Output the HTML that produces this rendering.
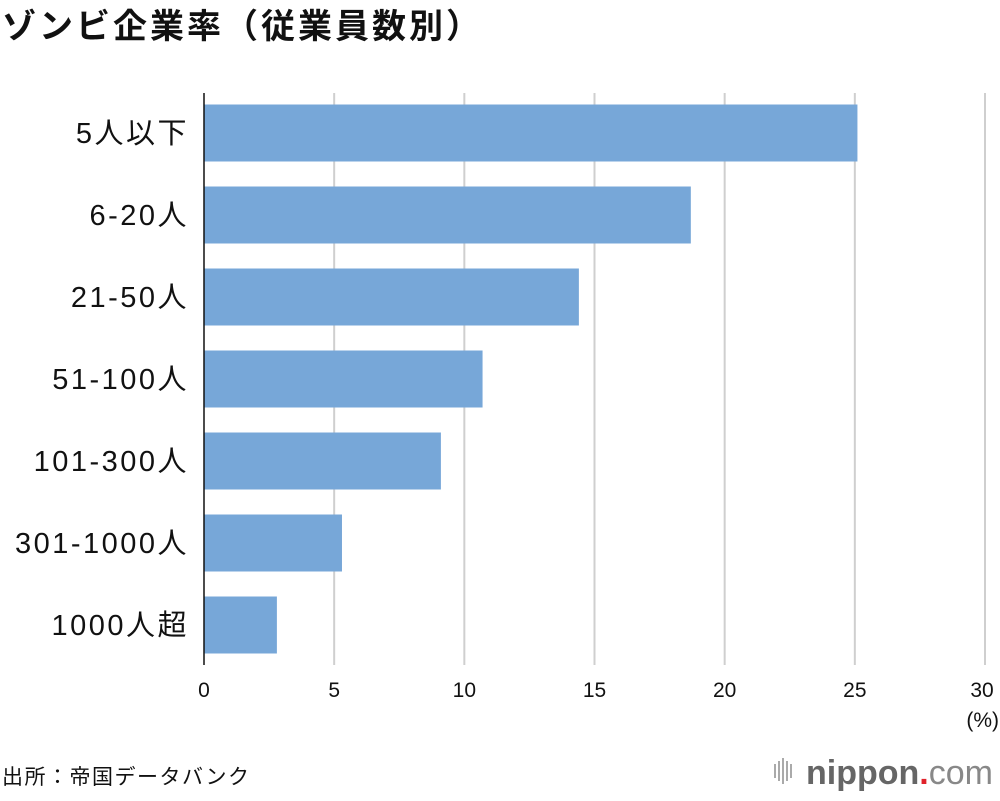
<!DOCTYPE html>
<html><head><meta charset="utf-8"><style>
body{margin:0;background:#fff;width:1000px;height:796px;overflow:hidden;font-family:"Liberation Sans","Noto Sans CJK JP",sans-serif;}
</style></head><body>
<svg id="c" width="1000" height="796" xmlns="http://www.w3.org/2000/svg">
<text x="2" y="38" font-size="34" font-weight="bold" fill="#111" letter-spacing="3">ゾンビ企業率（従業員数別）</text>
<g id="grid"></g><g id="bars"></g><g id="labels"></g>
<line x1="204" y1="93" x2="204" y2="665" stroke="#111" stroke-width="1.5"/>
<text x="999" y="727" font-size="21" text-anchor="end" fill="#111">(%)</text>
<text x="2" y="784" font-size="21" letter-spacing="1.5" fill="#111">出所：帝国データバンク</text>
<g>
<g fill="#aaa"><rect x="774" y="764" width="2" height="14"/><rect x="778" y="761" width="2" height="20"/><rect x="782" y="758" width="2" height="26"/><rect x="786" y="761" width="2" height="20"/><rect x="790" y="764" width="2" height="14"/></g>
<text x="806" y="784" font-size="34" font-weight="bold" fill="#666">nippon<tspan fill="#e0222a">.</tspan><tspan font-weight="normal" fill="#888">com</tspan></text>
</g>
</svg>
<script>
const categories=["5人以下","6-20人","21-50人","51-100人","101-300人","301-1000人","1000人超"];
const values=[25.1,18.7,14.4,10.7,9.1,5.3,2.8];
const ticks=[0,5,10,15,20,25,30];
const NS="http://www.w3.org/2000/svg";
const x=v=>204+v*(985-204)/30;
const band=i=>133+i*82;
const g=document.getElementById("grid"),b=document.getElementById("bars"),l=document.getElementById("labels");
function mk(tag,attrs,parent){const e=document.createElementNS(NS,tag);for(const k in attrs)e.setAttribute(k,attrs[k]);parent.appendChild(e);return e;}
ticks.forEach(t=>{
 if(t>0){const ln=mk("line",{x1:x(t),x2:x(t),y1:93,y2:665,stroke:"#cfcfcf","stroke-width":2},g);
 
 }
 const tx=mk("text",{x:t===30?x(t)-3:x(t),y:697,"font-size":21,"text-anchor":"middle",fill:"#111"},l);
 tx.textContent=t;
 
 
});
categories.forEach((c,i)=>{
 const r=mk("rect",{x:x(0),y:band(i)-28.5,width:x(values[i])-x(0),height:57,fill:"#77a7d8"},b);
 
 
 const tx=mk("text",{x:189,y:band(i)+10,"font-size":29,"letter-spacing":2.5,"text-anchor":"end",fill:"#111"},l);
 tx.textContent=c;
 
 
});
</script>
</body></html>
